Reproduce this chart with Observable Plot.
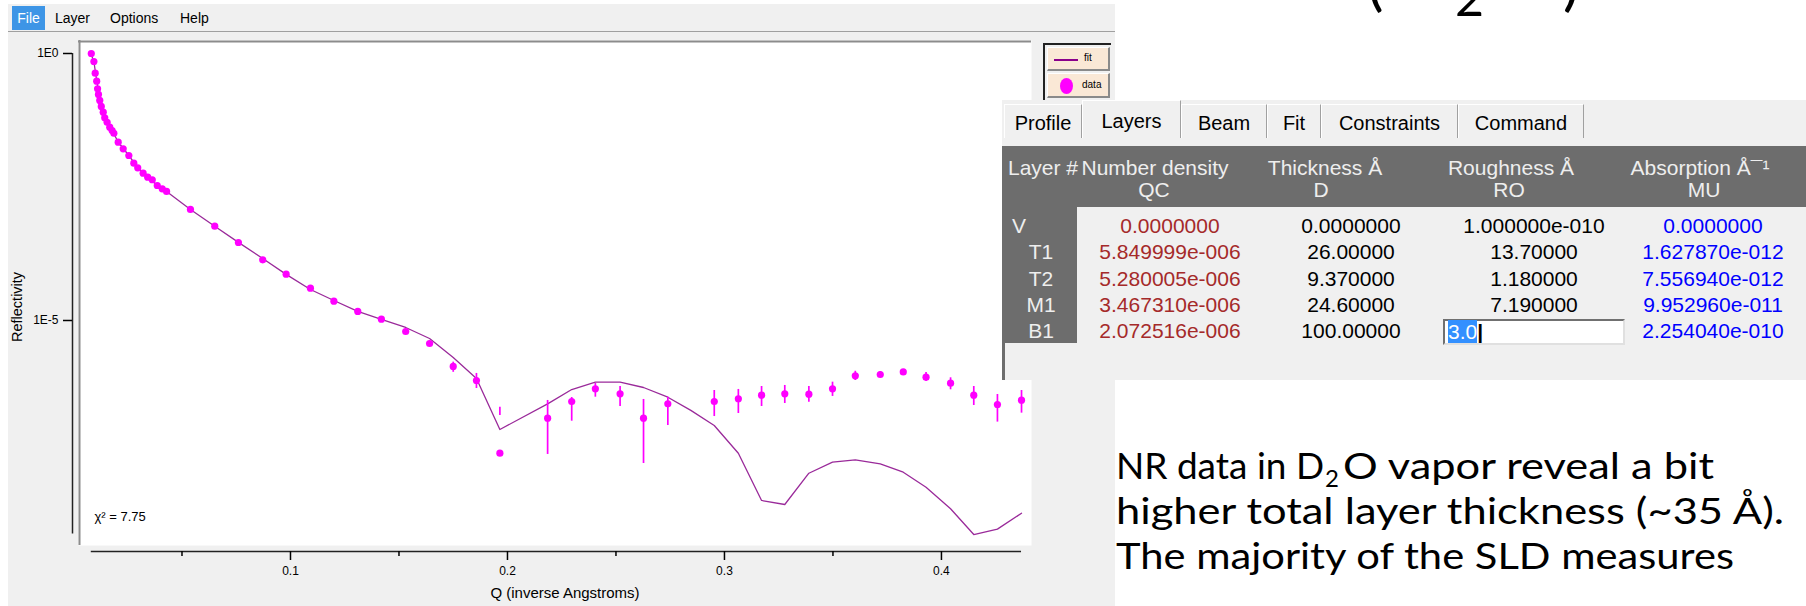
<!DOCTYPE html>
<html><head><meta charset="utf-8">
<script src="https://cdn.jsdelivr.net/npm/d3@7"></script>
<script src="https://cdn.jsdelivr.net/npm/@observablehq/plot@0.6"></script>
<style>
html,body{margin:0;padding:0;background:#fff;width:1806px;height:606px;overflow:hidden;position:relative;font-family:"Liberation Sans",Arial,sans-serif;}
.a{position:absolute;}
#app{left:8px;top:4px;width:1107px;height:602px;background:#f0f0f0;}
.menu{top:6px;height:24px;line-height:24px;font-size:14px;color:#000;}
#chart{left:0;top:36px;}
.btn{background:#fae8d6;border-top:1px solid #fff;border-left:1px solid #fff;border-right:2px solid #8a8a8a;border-bottom:2px solid #8a8a8a;box-sizing:border-box;}
.cell{white-space:nowrap;font-size:21px;transform:translate(-50%,-50%);}
.lcell{white-space:nowrap;font-size:21px;transform:translate(0,-50%);}
.hdr{color:#eeeeee;}
.tab{top:104px;height:34px;box-sizing:border-box;border-top:1px solid #fff;border-left:1px solid #fff;border-right:1px solid #a0a0a0;background:#f0f0f0;font-size:20px;line-height:36px;text-align:center;}
</style>
</head><body>
<div id="app" class="a"></div>
<div class="a" style="left:8px;top:31px;width:1107px;height:1px;background:#a0a0a0"></div>
<div class="a menu" style="left:12px;width:33px;background:#3d95e6;color:#fff;text-align:center">File</div>
<div class="a menu" style="left:55px">Layer</div>
<div class="a menu" style="left:110px">Options</div>
<div class="a menu" style="left:180px">Help</div>
<div id="chart" class="a"></div>
<div id="legend" class="a" style="left:1043px;top:43px;width:68px;height:57px;border-top:2px solid #222;border-left:2px solid #222;box-sizing:border-box;background:#f0f0f0">
  <div class="a btn" style="left:2px;top:2px;width:63px;height:24px">
    <div class="a" style="left:6px;top:11px;width:24px;height:2px;background:#8b008b"></div>
    <div class="a" style="left:36px;top:4px;font-size:10px">fit</div>
  </div>
  <div class="a btn" style="left:2px;top:28px;width:63px;height:25px">
    <div class="a" style="left:12px;top:4px;width:13px;height:16px;border-radius:50%;background:#ff00ff"></div>
    <div class="a" style="left:34px;top:5px;font-size:10px">data</div>
  </div>
</div>
<div id="panel" class="a" style="left:1002px;top:100px;width:804px;height:280px;background:#f0f0f0"></div>
<svg id="slide" class="a" style="left:0;top:0" width="1806" height="606"></svg>
<script>
// ---------- data ----------
const dataQ = [0.0082,0.0094,0.0100,0.0107,0.0111,0.0115,0.0121,0.0128,0.0137,0.0144,0.0155,0.0167,0.0178,0.0186,0.0206,0.0229,0.0255,0.0278,0.0296,0.0321,0.0342,0.0363,0.0386,0.0409,0.0429,0.0539,0.0651,0.0760,0.0872,0.0980,0.1092,0.1200,0.1310,0.1419,0.1531,0.1641,0.1750,0.1857,0.1965,0.2185,0.2296,0.2405,0.2519,0.2627,0.2739,0.2953,0.3064,0.3171,0.3278,0.3389,0.3498,0.3603,0.3718,0.3824,0.3929,0.4042,0.4149,0.4258,0.4369];
const dataR = [1.0,0.708,0.428,0.303,0.218,0.171,0.132,0.102,0.0796,0.0625,0.0516,0.0417,0.0361,0.0321,0.0218,0.0164,0.0123,0.00883,0.00724,0.00573,0.00483,0.00432,0.00337,0.00292,0.00261,0.00120,5.83e-4,2.89e-4,1.37e-4,7.36e-5,4.03e-5,2.30e-5,1.48e-5,1.06e-5,6.22e-6,3.71e-6,1.38e-6,7.52e-7,3.27e-8,1.48e-7,3.04e-7,5.26e-7,4.24e-7,1.48e-7,2.75e-7,3.04e-7,3.42e-7,3.99e-7,4.24e-7,4.17e-7,5.26e-7,9.20e-7,9.75e-7,1.09e-6,8.67e-7,6.70e-7,3.99e-7,2.67e-7,3.22e-7];
const errQ  = [0.1750,0.1857,0.1965,0.2185,0.2296,0.2405,0.2519,0.2627,0.2739,0.2953,0.3064,0.3171,0.3278,0.3389,0.3498,0.3603,0.3718,0.3824,0.3929,0.4042,0.4149,0.4258,0.4369];
const errHi = [1.66e-6,1.02e-6,2.38e-7,3.18e-7,3.61e-7,6.61e-7,5.81e-7,3.32e-7,3.66e-7,4.89e-7,5.11e-7,5.81e-7,6.07e-7,5.81e-7,7.00e-7,1.12e-6,1.11e-6,1.21e-6,1.06e-6,8.45e-7,5.81e-7,4.11e-7,4.89e-7];
const errLo = [1.07e-6,5.33e-7,1.66e-7,3.10e-8,1.30e-7,3.66e-7,2.45e-7,2.10e-8,1.08e-7,1.59e-7,1.81e-7,2.45e-7,2.79e-7,2.95e-7,3.78e-7,7.52e-7,8.57e-7,9.75e-7,7.21e-7,5.04e-7,2.56e-7,1.25e-7,1.84e-7];
const fitQ = [0.0080,0.0094,0.0107,0.0121,0.0137,0.0155,0.0178,0.0206,0.0255,0.0296,0.0342,0.0386,0.0429,0.0539,0.0651,0.0760,0.0872,0.0980,0.1092,0.1200,0.1310,0.1419,0.1531,0.1641,0.1750,0.1857,0.1965,0.2185,0.2296,0.2405,0.2519,0.2627,0.2739,0.2845,0.2953,0.3064,0.3171,0.3278,0.3389,0.3498,0.3603,0.3718,0.3824,0.3929,0.4042,0.4149,0.4258,0.4369];
const fitR = [1.0,0.70,0.31,0.135,0.080,0.052,0.036,0.022,0.0123,0.0073,0.0048,0.0034,0.0026,0.00120,5.8e-4,2.9e-4,1.45e-4,7.3e-5,3.81e-5,2.37e-5,1.48e-5,1.05e-5,7.4e-6,4.6e-6,2.03e-6,8.2e-7,9.1e-8,2.75e-7,5.1e-7,7.0e-7,7.0e-7,5.56e-7,3.66e-7,2.07e-7,1.08e-7,3.27e-8,4.26e-9,3.58e-9,1.38e-8,2.22e-8,2.46e-8,2.07e-8,1.44e-8,7.55e-9,2.98e-9,9.8e-10,1.24e-9,2.46e-9];
const yTicks = [1, 1e-5];
const yTickLabels = ["1E0", "1E-5"];
const xTicks = [0.1, 0.2, 0.3, 0.4];
const xTickLabels = ["0.1", "0.2", "0.3", "0.4"];
const xMinorTicks = [0.05, 0.15, 0.25, 0.35];
const xLabel = "Q (inverse Angstroms)";
const yLabel = "Reflectivity";
const chiText = "χ² = 7.75";

const tabNames = ["Profile","Layers","Beam","Fit","Constraints","Command"];
const headTop = ["Number density","Thickness Å","Roughness Å","Absorption Å\u00AF\u00B9"];
const headBottom = ["QC","D","RO","MU"];
const layerNames = ["V","T1","T2","M1","B1"];
const qcValues = ["0.0000000","5.849999e-006","5.280005e-006","3.467310e-006","2.072516e-006"];
const thickValues = ["0.0000000","26.00000","9.370000","24.60000","100.00000"];
const roughValues = ["1.000000e-010","13.70000","1.180000","7.190000","3.0"];
const absValues = ["0.0000000","1.627870e-012","7.556940e-012","9.952960e-011","2.254040e-010"];

// ---------- chart ----------
const data = dataQ.map((q, i) => ({q, r: dataR[i]}));
const errs = errQ.map((q, i) => ({q, lo: errLo[i], hi: errHi[i]}));
const fit = fitQ.map((q, i) => ({q, r: fitR[i]}));
const xDom = [-0.00046, 0.4415];
const yDom = [4.72e-10, 1.751];

const chart = Plot.plot({
  width: 1040, height: 570,
  marginLeft: 72, marginRight: 9, marginTop: 4, marginBottom: 55,
  style: {background: "transparent", fontFamily: "'Liberation Sans', Arial, sans-serif", fontSize: "12px", color: "#000"},
  x: {domain: xDom, axis: null},
  y: {type: "log", domain: yDom, axis: null},
  marks: [
    Plot.frame({fill: "white", stroke: null, insetLeft: 6, insetBottom: 6}),
    Plot.ruleY([yDom[1]], {stroke: "#8c8c8c", strokeWidth: 2, insetLeft: 6, dy: 1}),
    Plot.ruleX([xDom[0]], {stroke: "#8c8c8c", strokeWidth: 2, dx: 7, insetBottom: 6}),
    Plot.ruleX([xDom[0]], {y1: yTicks[0], y2: 1e-9, stroke: "#222", strokeWidth: 1.5}),
    Plot.ruleY([yDom[0]], {x1: dataQ[0], x2: dataQ[dataQ.length - 1], stroke: "#222", strokeWidth: 1.5}),
    Plot.axisY({ticks: yTicks, tickSize: 9, tickPadding: 5, strokeWidth: 1.5,
      tickFormat: d => yTickLabels[yTicks.indexOf(d)], label: null, fontSize: 12}),
    Plot.axisX({ticks: xTicks, tickSize: 9, tickPadding: 6, strokeWidth: 1.5,
      tickFormat: d => xTickLabels[xTicks.indexOf(d)], label: null, fontSize: 12}),
    Plot.axisX({ticks: xMinorTicks, tickSize: 5, strokeWidth: 1.5, tickFormat: () => "", label: null}),
    Plot.text([yLabel], {frameAnchor: "left", rotate: -90, dx: -55, dy: 46, fontSize: 14.5}),
    Plot.text([xLabel], {frameAnchor: "bottom", dx: 13, dy: 46, fontSize: 15}),
    Plot.line(fit, {x: "q", y: "r", stroke: "#9a2a9a", strokeWidth: 1.3}),
    Plot.ruleX(errs, {x: "q", y1: "lo", y2: "hi", stroke: "#ff00ff", strokeWidth: 1.7}),
    Plot.dot(data, {x: "q", y: "r", r: 3.6, fill: "#ff00ff", stroke: null}),
    Plot.text([chiText], {frameAnchor: "bottom-left", dx: 22, dy: -31, textAnchor: "start", fontSize: 13})
  ]
});
document.getElementById("chart").appendChild(chart);

// ---------- layer table panel ----------
const panel = document.getElementById("panel");
function add(parent, html, style, cls) {
  const d = document.createElement("div");
  d.className = "a " + (cls || "");
  d.style.cssText = style;
  d.innerHTML = html;
  parent.appendChild(d);
  return d;
}
const tabX = [2, 80, 179, 265, 319, 456, 582];
tabNames.forEach((t, i) => {
  const sel = i === 1;
  add(panel, t, `left:${tabX[i]}px;width:${tabX[i+1]-tabX[i]}px;top:${sel ? 0 : 4}px;height:${sel ? 38 : 34}px;line-height:${sel ? 40 : 36}px;`, "tab");
});
add(panel, "", "left:0;top:46px;width:804px;height:61px;background:#6d6d6d");
add(panel, "", "left:0;top:107px;width:75px;height:136px;background:#6d6d6d");
add(panel, "", "left:0;top:243px;width:3px;height:37px;background:#6d6d6d");
add(panel, "Layer #", "left:6px;top:68px", "lcell hdr");
const headX = [153, 323, 509, 698];
const head2X = [152, 319, 507, 702];
headTop.forEach((h, i) => add(panel, h, `left:${headX[i]}px;top:68px`, "cell hdr"));
headBottom.forEach((h, i) => add(panel, h, `left:${head2X[i]}px;top:90px`, "cell hdr"));
const valX = [168, 349, 532, 711];
const rowY = [126, 152, 178.5, 205, 231];
const rowLX = [17, 39, 39, 39, 39];
layerNames.forEach((n, i) => {
  add(panel, n, `left:${rowLX[i]}px;top:${rowY[i]}px`, "cell hdr");
  add(panel, qcValues[i], `left:${valX[0]}px;top:${rowY[i]}px;color:#a52a2a`, "cell");
  add(panel, thickValues[i], `left:${valX[1]}px;top:${rowY[i]}px;color:#000`, "cell");
  if (i < 4) add(panel, roughValues[i], `left:${valX[2]}px;top:${rowY[i]}px;color:#000`, "cell");
  add(panel, absValues[i], `left:${valX[3]}px;top:${rowY[i]}px;color:#0000ff`, "cell");
});
const box = add(panel, "", "left:441px;top:219px;width:182px;height:26px;background:#fff;border:2px solid #707070;border-bottom-color:#e0e0e0;border-right-color:#e0e0e0;box-sizing:border-box");
add(box, `<span style="background:#3390ff;color:#fff">${roughValues[4]}</span><span style="font-weight:bold">|</span>`, "left:3px;top:-1px;font-size:21px;line-height:24px;white-space:nowrap");

// ---------- slide text ----------
const NS = "http://www.w3.org/2000/svg";
const slide = document.getElementById("slide");
function stext(str, x, y, size, len) {
  const tx = document.createElementNS(NS, "text");
  tx.setAttribute("x", x); tx.setAttribute("y", y);
  tx.setAttribute("font-family", "Lato, 'Open Sans', sans-serif");
  tx.setAttribute("font-size", size);
  tx.textContent = str;
  slide.appendChild(tx);
  const natural = tx.getComputedTextLength();
  if (len) { tx.setAttribute("textLength", len); tx.setAttribute("lengthAdjust", "spacingAndGlyphs"); }
  return len || natural;
}
const w1 = stext("NR data in D", 1116, 479, 37);
const subX = 1116 + w1 + 1;
const w2 = stext("2", subX, 487, 24);
const oX = subX + w2 + 4;
stext("O vapor reveal a bit", oX, 479, 37, 1714 - oX);
stext("higher total layer thickness (~35 Å).", 1116, 524, 37, 668);
stext("The majority of the SLD measures", 1116, 569, 37, 618);
// bottom edge of the slide title above (cut off by the crop)
stext("(", 1367, 4, 62);
stext("2", 1455, 16, 50);
stext(")", 1563, 4, 62);
</script>
</body></html>
